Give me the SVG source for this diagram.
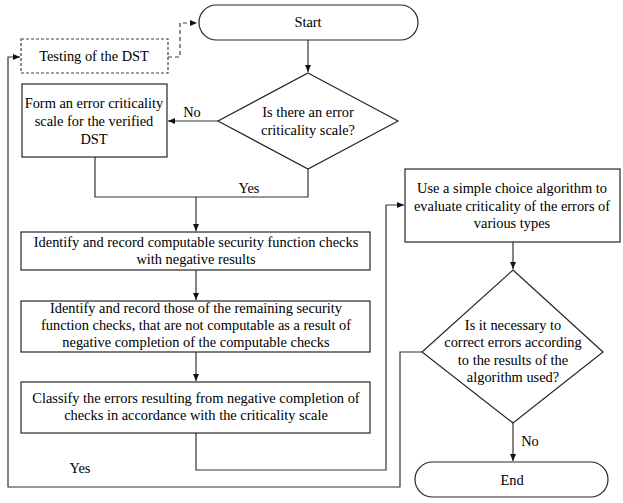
<svg xmlns="http://www.w3.org/2000/svg" width="623" height="503" viewBox="0 0 623 503">
<defs>
<style>
text{font-family:'Liberation Serif','DejaVu Serif',serif;font-size:14.4px;fill:#000;text-anchor:middle;dominant-baseline:central}
.n{fill:#fff;stroke:#262626;stroke-width:1.2}
.d{fill:#fff;stroke:#404040;stroke-width:1.2;stroke-dasharray:3,2}
.c{fill:none;stroke:#333;stroke-width:1.2}
.cd{fill:none;stroke:#404040;stroke-width:1.2;stroke-dasharray:4,3}
</style>
<marker id="a" markerWidth="8" markerHeight="8" refX="7" refY="4" orient="auto" markerUnits="userSpaceOnUse">
<path d="M0,1 L7,4 L0,7 Z" fill="#111"/>
</marker>
</defs>
<rect width="623" height="503" fill="#fff"/>
<g font-family="Liberation Serif, DejaVu Serif, serif">
<g id="connectors">
<polyline class="cd" points="168,57 180,57 180,23 197,23" marker-end="url(#a)"/>
<line class="c" x1="308" y1="40" x2="308" y2="72" marker-end="url(#a)"/>
<line class="c" x1="218" y1="121" x2="168" y2="121" marker-end="url(#a)"/>
<polyline class="c" points="95,157 95,197 308,197 308,169"/>
<line class="c" x1="196" y1="197" x2="196" y2="231" marker-end="url(#a)"/>
<line class="c" x1="196" y1="270" x2="196" y2="300" marker-end="url(#a)"/>
<line class="c" x1="196" y1="352" x2="196" y2="381" marker-end="url(#a)"/>
<polyline class="c" points="196,433 196,470 386,470 386,205 404,205" marker-end="url(#a)"/>
<line class="c" x1="513" y1="242" x2="513" y2="269" marker-end="url(#a)"/>
<line class="c" x1="513" y1="423" x2="513" y2="461" marker-end="url(#a)"/>
<polyline class="c" points="422,352 400,352 400,487 8,487 8,57 20,57" marker-end="url(#a)"/>
<text x="192" y="112">No</text>
<text x="249" y="188">Yes</text>
<text x="80" y="468">Yes</text>
<text x="530" y="441">No</text>
</g>
<g id="start">
<rect class="n" x="199" y="5" width="219" height="35" rx="17.5"/>
<text x="308" y="22">Start</text>
</g>
<g id="testing">
<rect class="d" x="21" y="39" width="147" height="34"/>
<text x="94" y="56">Testing of the DST</text>
</g>
<g id="decision1">
<polygon class="n" points="308,73 398,121 308,169 218,121"/>
<text x="308" y="112">Is there an error</text>
<text x="308" y="130">criticality scale?</text>
</g>
<g id="form">
<rect class="n" x="22" y="84" width="145" height="73"/>
<text x="94" y="103">Form an error criticality</text>
<text x="94" y="121">scale for the verified</text>
<text x="94" y="139">DST</text>
</g>
<g id="identify1">
<rect class="n" x="21" y="232" width="349" height="38"/>
<text x="196" y="242">Identify and record computable security function checks</text>
<text x="196" y="259">with negative results</text>
</g>
<g id="identify2">
<rect class="n" x="21" y="301" width="349" height="51"/>
<text x="196" y="308">Identify and record those of the remaining security</text>
<text x="196" y="325">function checks, that are not computable as a result of</text>
<text x="196" y="342">negative completion of the computable checks</text>
</g>
<g id="classify">
<rect class="n" x="21" y="382" width="349" height="51"/>
<text x="196" y="398">Classify the errors resulting from negative completion of</text>
<text x="196" y="415">checks in accordance with the criticality scale</text>
</g>
<g id="choice">
<rect class="n" x="405" y="169" width="215" height="73"/>
<text x="512" y="188">Use a simple choice algorithm to</text>
<text x="512" y="206">evaluate criticality of the errors of</text>
<text x="512" y="223">various types</text>
</g>
<g id="decision2">
<polygon class="n" points="513,270 603,352 513,423 422,352"/>
<text x="513" y="325">Is it necessary to</text>
<text x="513" y="342">correct errors according</text>
<text x="513" y="360">to the results of the</text>
<text x="513" y="377">algorithm used?</text>
</g>
<g id="end">
<rect class="n" x="415" y="462" width="193" height="35" rx="17.5"/>
<text x="512" y="480">End</text>
</g>
</g>
</svg>
